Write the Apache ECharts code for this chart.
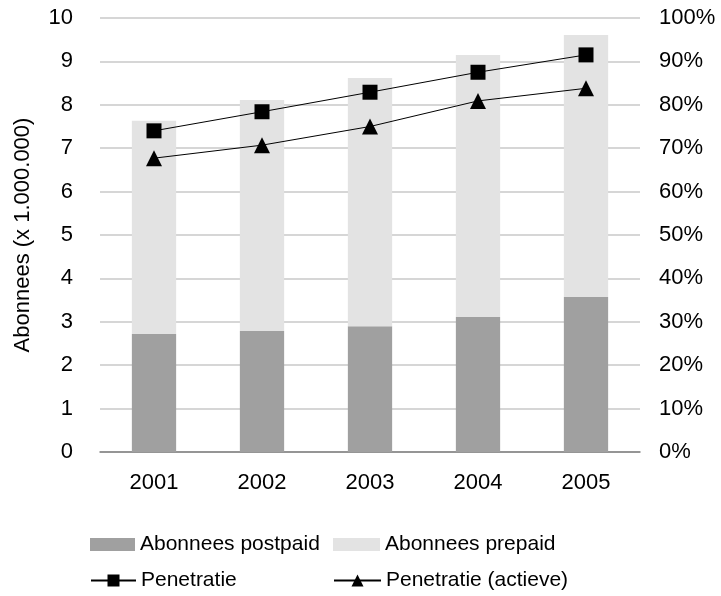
<!DOCTYPE html>
<html>
<head>
<meta charset="utf-8">
<script src="https://cdn.jsdelivr.net/npm/echarts@6/dist/echarts.min.js"></script>
<style>html,body{margin:0;padding:0;background:#fff;}#c{width:721px;height:596px;}</style>
</head>
<body>
<div id="c"></div>
<script>
var years = ['2001', '2002', '2003', '2004', '2005'];
var postpaid = [2.72, 2.79, 2.90, 3.11, 3.57];
var prepaid = [4.91, 5.32, 5.72, 6.04, 6.04];
var penetratie = [74.0, 78.4, 82.9, 87.5, 91.5];
var penetratieActief = [67.7, 70.7, 75.0, 80.9, 83.8];

var FONT = 'Liberation Sans, Arial, sans-serif';
var chart = echarts.init(document.getElementById('c'), null, {renderer: 'canvas'});
var txt = {fontFamily: FONT, fontSize: 21, color: '#000'};
chart.setOption({
  animation: false,
  backgroundColor: '#fff',
  grid: {left: 100, right: 81, top: 18, bottom: 144},
  legend: [
    {data: [{name: 'Abonnees postpaid', icon: 'rect'}], left: 90, top: 534, itemWidth: 45, itemHeight: 13, itemGap: 5, textStyle: txt, padding: 0},
    {data: [{name: 'Abonnees prepaid', icon: 'rect'}], left: 333, top: 534, itemWidth: 47, itemHeight: 13, textStyle: txt, padding: 0},
    {data: ['Penetratie'], left: 90, top: 570, itemWidth: 45, itemHeight: 15, textStyle: txt, padding: 0},
    {data: ['Penetratie (actieve)'], left: 333, top: 570, itemWidth: 47, itemHeight: 15, textStyle: txt, padding: 0}
  ],
  xAxis: {
    type: 'category', data: years,
    axisLine: {lineStyle: {color: '#808080', width: 1.5}},
    axisTick: {show: false},
    axisLabel: {fontFamily: FONT, fontSize: 22, color: '#000', margin: 20}
  },
  yAxis: [
    {
      type: 'value', min: 0, max: 10, interval: 1,
      name: 'Abonnees (x 1.000.000)', nameLocation: 'middle', nameGap: 66,
      nameTextStyle: {fontFamily: FONT, fontSize: 22, color: '#000'},
      axisLine: {show: false}, axisTick: {show: false},
      splitLine: {lineStyle: {color: '#c8c8c8', width: 1.5}},
      axisLabel: {fontFamily: FONT, fontSize: 22, color: '#000', margin: 27}
    },
    {
      type: 'value', min: 0, max: 100, interval: 10,
      axisLine: {show: false}, axisTick: {show: false}, splitLine: {show: false},
      axisLabel: {fontFamily: FONT, fontSize: 22, color: '#000', margin: 19, formatter: '{value}%'}
    }
  ],
  series: [
    {name: 'Abonnees postpaid', type: 'bar', stack: 'a', data: postpaid, barWidth: '41%', itemStyle: {color: '#a0a0a0'}},
    {name: 'Abonnees prepaid', type: 'bar', stack: 'a', data: prepaid, barWidth: '41%', itemStyle: {color: '#e3e3e3'}},
    {name: 'Penetratie', type: 'line', yAxisIndex: 1, data: penetratie, symbol: 'rect', symbolSize: 15,
      lineStyle: {color: '#000', width: 1}, itemStyle: {color: '#000'}},
    {name: 'Penetratie (actieve)', type: 'line', yAxisIndex: 1, data: penetratieActief, symbol: 'triangle', symbolSize: 16,
      lineStyle: {color: '#000', width: 1}, itemStyle: {color: '#000'}}
  ]
});
</script>
</body>
</html>
